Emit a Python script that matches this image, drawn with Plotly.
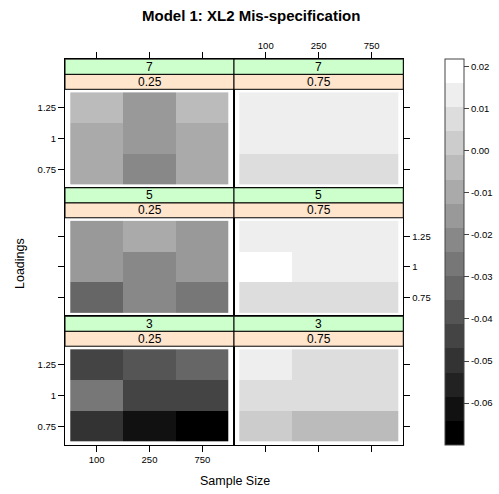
import plotly.graph_objects as go

# ---------------- data ----------------
sample_sizes = ["100", "250", "750"]          # x categories
loadings = ["0.75", "1", "1.25"]              # y categories (bottom -> top)
n_factors = ["7", "5", "3"]                   # panel rows, top -> bottom (outer strip)
proportions = ["0.25", "0.75"]                # panel columns (inner strip)

# z[loading][sample size]  (rows: 0.75, 1, 1.25)
z_7_025 = [[-0.0096, -0.0211, -0.0096],
           [-0.0096, -0.0153, -0.0096],
           [-0.0039, -0.0153, -0.0039]]
z_7_075 = [[0.0076, 0.0076, 0.0076],
           [0.0133, 0.0133, 0.0133],
           [0.0133, 0.0133, 0.0133]]
z_5_025 = [[-0.0326, -0.0211, -0.0268],
           [-0.0153, -0.0211, -0.0153],
           [-0.0153, -0.0096, -0.0153]]
z_5_075 = [[0.0076, 0.0076, 0.0076],
           [0.0205, 0.0133, 0.0133],
           [0.0133, 0.0133, 0.0133]]
z_3_025 = [[-0.0498, -0.0613, -0.0690],
           [-0.0268, -0.0441, -0.0441],
           [-0.0441, -0.0383, -0.0326]]
z_3_075 = [[0.0019, -0.0039, -0.0039],
           [0.0076, 0.0076, 0.0076],
           [0.0133, 0.0076, 0.0076]]

panel_z = {("7", "0.25"): z_7_025, ("7", "0.75"): z_7_075,
           ("5", "0.25"): z_5_025, ("5", "0.75"): z_5_075,
           ("3", "0.25"): z_3_025, ("3", "0.75"): z_3_075}

z_min, z_max = -0.0699, 0.0219
n_levels = 16
cbar_ticks = [0.02, 0.01, 0.00, -0.01, -0.02, -0.03, -0.04, -0.05, -0.06]

# ---------------- layout geometry ----------------
W, H = 499, 494
FONT = "Liberation Sans, Arial, Helvetica, sans-serif"

px_left, px_mid, px_right = 65.0, 234.0, 403.3
px_top, px_bottom = 59.3, 444.7
row_h = (px_bottom - px_top) / 3
strip_px = 15.0
body_px = row_h - 2 * strip_px
unit_px = body_px / 3.2
strip_u = strip_px / unit_px
y_top = 3.6 + 2 * strip_u


def fx(px):
    return px / W


def fy(px):
    return 1 - px / H


# stepped gray colorscale
colorscale = []
for k in range(n_levels):
    g = round(255 * k / (n_levels - 1))
    c = f"rgb({g},{g},{g})"
    colorscale.append([k / n_levels, c])
    colorscale.append([(k + 1) / n_levels, c])

fig = go.Figure()
shapes = []
annotations = []
layout_axes = {}

for r, nf in enumerate(n_factors):
    for c, pr in enumerate(proportions):
        i = r * 2 + c + 1
        xs = "x" if i == 1 else f"x{i}"
        ys = "y" if i == 1 else f"y{i}"
        xkey = "xaxis" if i == 1 else f"xaxis{i}"
        ykey = "yaxis" if i == 1 else f"yaxis{i}"

        fig.add_trace(go.Heatmap(
            x=[1, 2, 3], y=[1, 2, 3], z=panel_z[(nf, pr)],
            coloraxis="coloraxis", xaxis=xs, yaxis=ys,
            hoverinfo="skip", xgap=0, ygap=0,
        ))

        xd = [fx(px_left), fx(px_mid)] if c == 0 else [fx(px_mid), fx(px_right)]
        yd = [fy(px_top + (r + 1) * row_h), fy(px_top + r * row_h)]

        xa = dict(domain=xd, range=[0.4, 3.6], anchor=ys,
                  tickvals=[1, 2, 3], ticktext=sample_sizes,
                  showline=True, mirror=True, linecolor="black", linewidth=1,
                  showgrid=False, zeroline=False, fixedrange=True,
                  tickfont=dict(family=FONT, size=9.5, color="black"),
                  tickcolor="black", ticklen=6, tickwidth=1)
        if r == 0:
            xa.update(side="top", ticks="outside", showticklabels=(c == 1))
        elif r == 2:
            xa.update(side="bottom", ticks="outside", showticklabels=(c == 0))
        else:
            xa.update(ticks="", showticklabels=False)

        ya = dict(domain=yd, range=[0.4, y_top], anchor=xs,
                  tickvals=[1, 2, 3], ticktext=loadings,
                  showline=True, mirror=True, linecolor="black", linewidth=1,
                  showgrid=False, zeroline=False, fixedrange=True,
                  tickfont=dict(family=FONT, size=9.5, color="black"),
                  tickcolor="black", ticklen=6, tickwidth=1, ticks="outside")
        if c == 0:
            ya.update(side="left", showticklabels=(r != 1))
        else:
            ya.update(side="right", showticklabels=(r == 1))

        layout_axes[xkey] = xa
        layout_axes[ykey] = ya

        # strips: inner (proportion, peach) and outer (factors, green)
        y0 = 3.6
        y1 = 3.6 + strip_u
        y2 = 3.6 + 2 * strip_u
        shapes.append(dict(type="rect", xref=f"{xs} domain", yref=ys,
                           x0=0, x1=1, y0=y0, y1=y1,
                           fillcolor="#ffe5cc", line=dict(color="black", width=1),
                           layer="above"))
        shapes.append(dict(type="rect", xref=f"{xs} domain", yref=ys,
                           x0=0, x1=1, y0=y1, y1=y2,
                           fillcolor="#ccffcc", line=dict(color="black", width=1),
                           layer="above"))
        annotations.append(dict(xref=f"{xs} domain", yref=ys, x=0.5, y=(y0 + y1) / 2,
                                text=pr, showarrow=False,
                                font=dict(family=FONT, size=12, color="black"),
                                xanchor="center", yanchor="middle"))
        annotations.append(dict(xref=f"{xs} domain", yref=ys, x=0.5, y=(y1 + y2) / 2,
                                text=nf, showarrow=False,
                                font=dict(family=FONT, size=12, color="black"),
                                xanchor="center", yanchor="middle"))

# titles
annotations.append(dict(xref="paper", yref="paper", x=fx(251), y=fy(16),
                        text="<b>Model 1: XL2 Mis-specification</b>", showarrow=False,
                        font=dict(family=FONT, size=15, color="black"),
                        xanchor="center", yanchor="middle"))
annotations.append(dict(xref="paper", yref="paper", x=fx(235), y=fy(481),
                        text="Sample Size", showarrow=False,
                        font=dict(family=FONT, size=12.5, color="black"),
                        xanchor="center", yanchor="middle"))
annotations.append(dict(xref="paper", yref="paper", x=fx(20), y=fy(264),
                        text="Loadings", showarrow=False, textangle=-90,
                        font=dict(family=FONT, size=12.5, color="black"),
                        xanchor="center", yanchor="middle"))

fig.update_layout(
    width=W, height=H, autosize=False,
    margin=dict(l=0, r=0, t=0, b=0),
    paper_bgcolor="white", plot_bgcolor="white",
    showlegend=False,
    coloraxis=dict(
        colorscale=colorscale, cmin=z_min, cmax=z_max,
        colorbar=dict(
            thickness=19, thicknessmode="pixels",
            len=444.3 - 58.7, lenmode="pixels",
            x=fx(445), xanchor="left", y=fy(58.7), yanchor="top",
            xpad=0, ypad=0,
            outlinewidth=1, outlinecolor="#444444",
            tickvals=cbar_ticks, ticktext=[f"{v:.2f}" for v in cbar_ticks],
            ticks="outside", ticklen=5, tickcolor="#444444",
            tickfont=dict(family=FONT, size=9.5, color="black"),
        ),
    ),
    shapes=shapes,
    annotations=annotations,
    **layout_axes,
)

fig.write_html("out.html")
